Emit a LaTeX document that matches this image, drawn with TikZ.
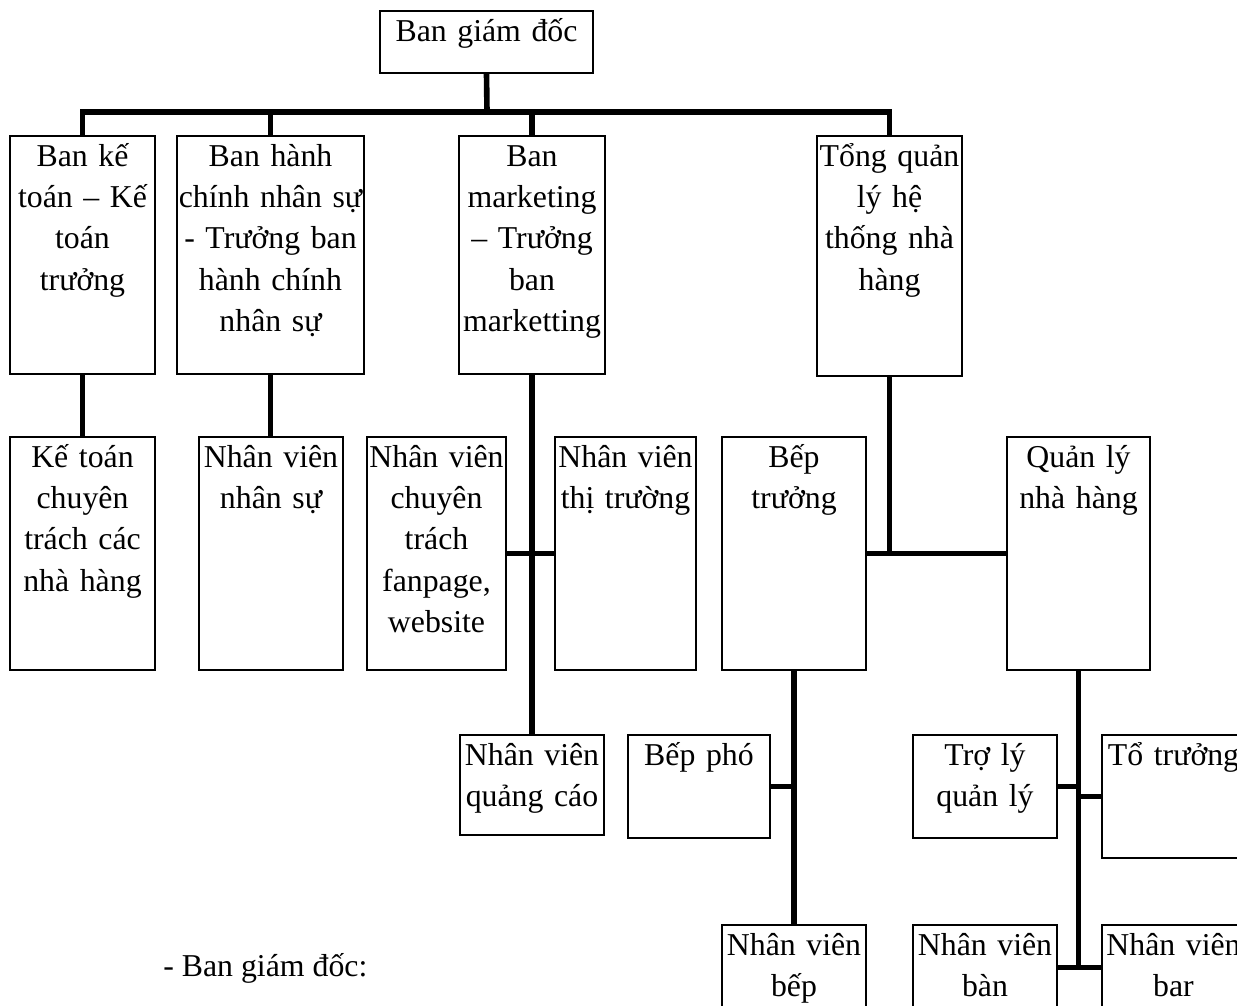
\documentclass[tikz,border=0pt]{standalone}
\usepackage{fontspec}
\setmainfont{Liberation Serif}
\usetikzlibrary{fit}
\tikzstyle{orgChart} = [x = .02cm, y = -.02cm]
\tikzstyle{boxStyle} = [draw=black, line width=.8pt, inner sep=0pt, fill=white]
\tikzstyle{boxText} = [anchor=base, align=center, inner sep=0pt, font=\boxFont]
\tikzstyle{linkLine} = [color=black, line width=3.2pt]
\newcommand{\boxFont}{\fontsize{18.1}{23.6}\selectfont}
\newcommand{\orgBox}[6]{
  \node [boxStyle, fit={(#2,#3) (#4,#5)}] (#1) {};
  \node [boxText, text width={(#4-#2)*.02cm}] (#1Text) at ({(#2+#4)/2},{#3+30}) {#6};
}

\begin{document}
\begin{tikzpicture}[orgChart]
        \clip (0,0) rectangle (1237,1005);
        \fill [white] (0,0) rectangle (1237,1005);
        \orgBox{top}{380}{11}{593}{73}{Ban giám đốc}
        \orgBox{acc}{10}{136}{155}{374}{Ban kế\\toán – Kế\\toán\\trưởng}
        \orgBox{hr}{177}{136}{364}{374}{Ban hành\\chính nhân sự\\- Trưởng ban\\hành chính\\nhân sự}
        \orgBox{mkt}{459}{136}{605}{374}{Ban\\marketing\\– Trưởng\\ban\\marketting}
        \orgBox{gm}{817}{136}{962}{376}{Tổng quản\\lý hệ\\thống nhà\\hàng}
        \orgBox{accStaff}{10}{437}{155}{670}{Kế toán\\chuyên\\trách các\\nhà hàng}
        \orgBox{hrStaff}{199}{437}{343}{670}{Nhân viên\\nhân sự}
        \orgBox{fan}{367}{437}{506}{670}{Nhân viên\\chuyên\\trách\\fanpage,\\website}
        \orgBox{market}{555}{437}{696}{670}{Nhân viên\\thị trường}
        \orgBox{chef}{722}{437}{866}{670}{Bếp\\trưởng}
        \orgBox{mgr}{1007}{437}{1150}{670}{Quản lý\\nhà hàng}
        \orgBox{ads}{460}{735}{604}{835}{Nhân viên\\quảng cáo}
        \orgBox{sous}{628}{735}{770}{838}{Bếp phó}
        \orgBox{asst}{913}{735}{1057}{838}{Trợ lý\\quản lý}
        \orgBox{lead}{1102}{735}{1245}{858}{Tổ trưởng}
        \orgBox{cook}{722}{925}{866}{1010}{Nhân viên\\bếp}
        \orgBox{waiter}{913}{925}{1057}{1010}{Nhân viên\\bàn}
        \orgBox{bar}{1102}{925}{1245}{1010}{Nhân viên\\bar}
        \coordinate (mainBus) at (487,112);
        \draw [linkLine] (top.south) -- (mainBus);
        \draw [linkLine] (acc.north) |- (mainBus) -| (gm.north);
        \draw [linkLine] (hr.north) -- (hr.north |- mainBus);
        \draw [linkLine] (mkt.north) -- (mkt.north |- mainBus);
        \draw [linkLine] (acc.south) -- (accStaff.north);
        \draw [linkLine] (hr.south) -- (hr.south |- hrStaff.north);
        \draw [linkLine] (mkt.south) -- (mkt.south |- ads.north);
        \draw [linkLine] (fan.east) -- (market.west);
        \draw [linkLine] (gm.south) -- (gm.south |- chef.east);
        \draw [linkLine] (chef.east) -- (mgr.west);
        \draw [linkLine] (chef.south) -- (cook.north);
        \draw [linkLine] (sous.east) -- (sous.east -| chef.south);
        \draw [linkLine] (mgr.south) -- (mgr.south |- waiter.east);
        \draw [linkLine] (asst.east) -- (asst.east -| mgr.south);
        \draw [linkLine] (lead.west) -- (lead.west -| mgr.south);
        \draw [linkLine] (waiter.east) -- (bar.west);
        \node [anchor=base west, inner sep=0pt, font=\boxFont] (noteLine) at (163,976) {- Ban giám đốc:};
      \end{tikzpicture}
\end{document}
